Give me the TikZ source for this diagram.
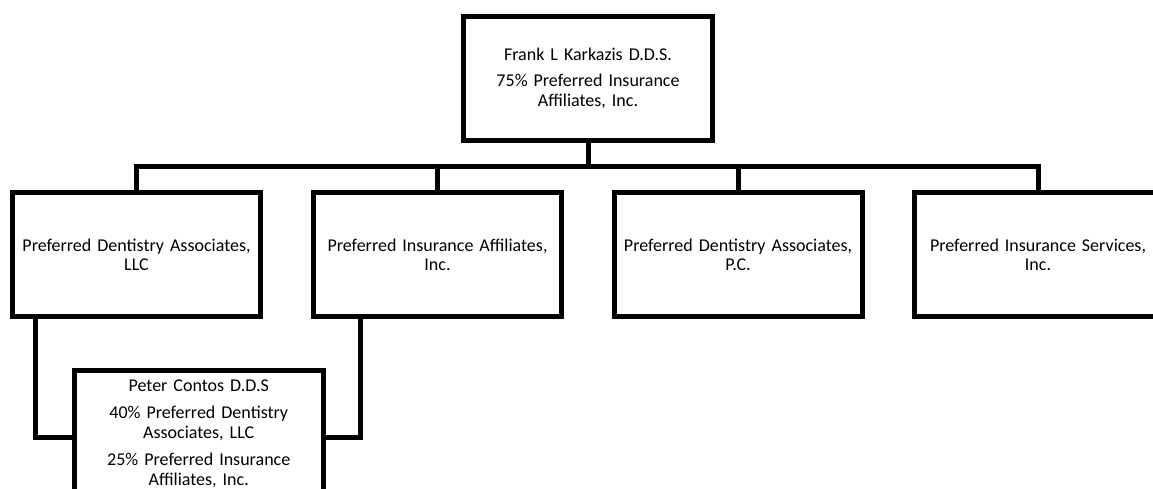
\documentclass[tikz,border=0pt]{standalone}
\usepackage{fontspec}
\setmainfont{Carlito}
\begin{document}
\begin{tikzpicture}[x=1pt,y=-1pt,
  box/.style={draw=black,line width=5pt,fill=white,rectangle,align=center,
    inner sep=0pt,text width=240pt,minimum width=248pt,minimum height=123.5pt,
    font=\fontsize{18}{19.5}\selectfont},
  link/.style={draw=black,line width=5pt,line join=miter}]
\useasboundingbox (0,0) rectangle (1153,489);
\clip (0,0) rectangle (1153,489);
\node[box,minimum width=249pt,minimum height=124pt] (top) at (588,78.5)
  {Frank L Karkazis D.D.S.\\[6.5pt]75\% Preferred Insurance\\Affiliates, Inc.};
\node[box] (b1) at (136.5,254.75) {Preferred Dentistry Associates,\\LLC};
\node[box] (b2) at (437.5,254.75) {Preferred Insurance Affiliates,\\Inc.};
\node[box] (b3) at (738,254.75) {Preferred Dentistry Associates,\\P.C.};
\node[box] (b4) at (1038,254.75) {Preferred Insurance Services,\\Inc.};
\node[box,minimum width=248.5pt,minimum height=127pt] (p) at (198.75,433.5)
  {Peter Contos D.D.S\\[8pt]40\% Preferred Dentistry\\Associates, LLC\\[8pt]25\% Preferred Insurance\\Affiliates, Inc.};
\coordinate (bar) at (588,166.5);
\draw[link] (top.south) -- (bar);
\draw[link] (b1.north) -- (b1.north |- bar) -- (b4.north |- bar) -- (b4.north);
\draw[link] (b2.north) -- (b2.north |- bar);
\draw[link] (b3.north) -- (b3.north |- bar);
\draw[link] ([xshift=25pt]b1.south west) |- ([yshift=-4pt]p.west);
\draw[link] ([xshift=49pt]b2.south west) |- ([yshift=-4pt]p.east);
\end{tikzpicture}
\end{document}
